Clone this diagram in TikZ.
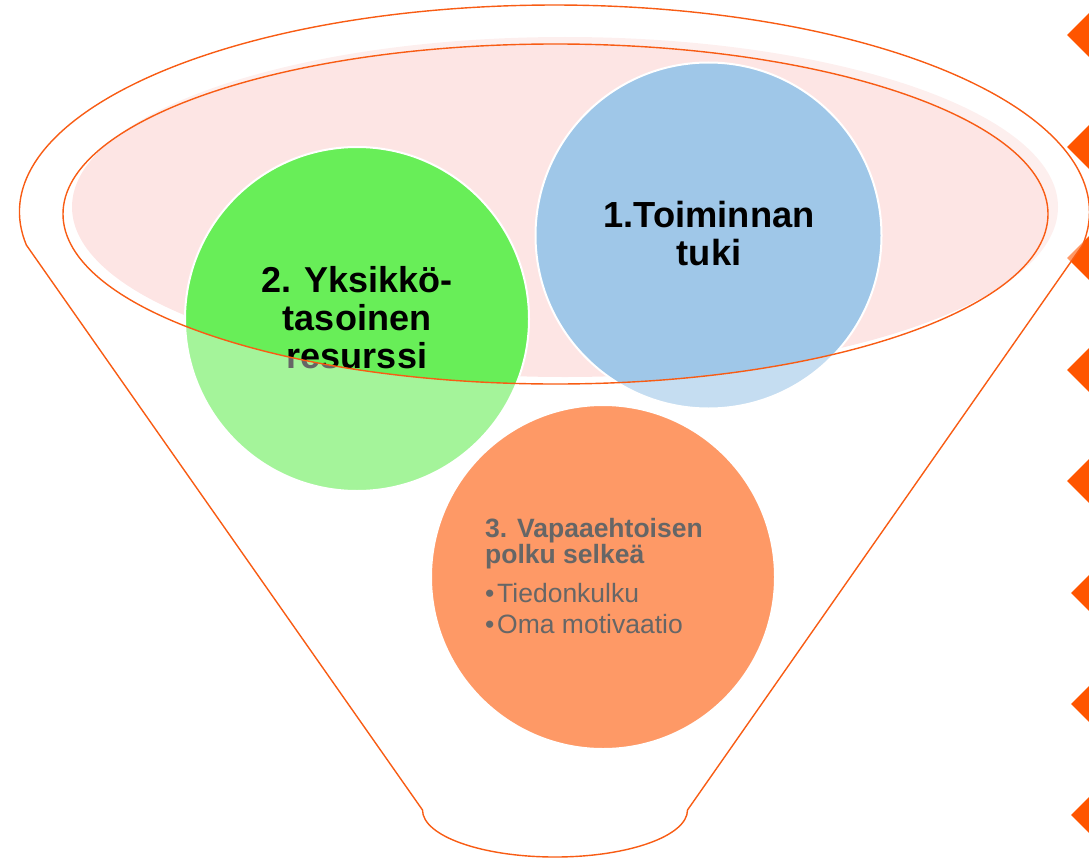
\documentclass[tikz,border=0pt]{standalone}
\usepackage{fontspec}
\setmainfont{Liberation Sans}
\definecolor{pinkfill}{HTML}{FDE5E4}
\definecolor{greenfill}{HTML}{68EE58}
\definecolor{bluefill}{HTML}{9FC7E8}
\definecolor{orangefill}{HTML}{FE9966}
\definecolor{lineorange}{HTML}{F85C14}
\definecolor{triorange}{HTML}{FF5500}
\definecolor{graytext}{HTML}{666666}
\begin{document}
\begin{tikzpicture}[x=1pt,y=1pt,
  ln/.style={draw=lineorange, line width=1.4pt},
  bubble/.style={circle, draw=white, line width=2pt, inner sep=0pt},
  bigtxt/.style={font=\fontsize{36.3}{37.5}\selectfont\bfseries, align=center, inner sep=0pt, text=black},
  smalltxt/.style={anchor=base west, inner sep=0pt, text=graytext},
  funnel/.style={insert path={(26.4,-245.1) arc[start angle=189.2, end angle=-9.2, x radius=535pt, y radius=207pt] -- (687.5,-810) arc[start angle=0, end angle=-180, x radius=132.5pt, y radius=47pt] -- cycle}},
  innerell/.style={insert path={(555.5,-214) ellipse [x radius=492.5pt, y radius=170pt]}}
]
\useasboundingbox (0,0) rectangle (1089,-859);
\clip (0,0) rectangle (1089,-859);
% pink top surface
\fill[pinkfill] (565,-207) ellipse [x radius=493pt, y radius=170pt];
% diamonds on the right edge
\foreach \yy/\xx in {35/1067,147/1067,258/1067,370/1067,481/1067,593/1071,704/1071,815/1071}
  \fill[triorange] (\xx,-\yy) -- ++(30,30) -- ++(30,-30) -- ++(-30,-30) -- cycle;
% green and blue circles
\node[bubble, fill=greenfill, minimum size=344pt] (green) at (357,-319) {};
\node[bigtxt, font=\fontsize{36}{38}\selectfont\bfseries] (greentxt) at (357,-318) {2. Yksikkö-\\tasoinen\\resurssi};
\node[bubble, fill=bluefill, minimum size=346pt] (blue) at (708.5,-235.5) {};
\node[bigtxt] (bluetxt) at (709,-233.5) {1.Toiminnan\\tuki};
% translucent funnel body
\fill[white, fill opacity=0.4, even odd rule, funnel, innerell];
% orange circle
\node[bubble, fill=orangefill, minimum size=344pt] (orange) at (603,-577) {};
\node[smalltxt, font=\fontsize{26.5}{26.5}\selectfont\bfseries] (t1) at (485,-537) {3. Vapaaehtoisen};
\node[smalltxt, font=\fontsize{26.5}{26.5}\selectfont\bfseries] (t2) at (485,-563) {polku selkeä};
\node[smalltxt, font=\fontsize{26.5}{26.5}\selectfont] (t3) at (485,-602) {\makebox[12pt][l]{•}Tiedonkulku};
\node[smalltxt, font=\fontsize{26.5}{26.5}\selectfont] (t4) at (485,-633) {\makebox[12pt][l]{•}Oma motivaatio};
% outlines
\draw[ln, funnel];
\draw[ln, innerell];
\end{tikzpicture}
\end{document}
